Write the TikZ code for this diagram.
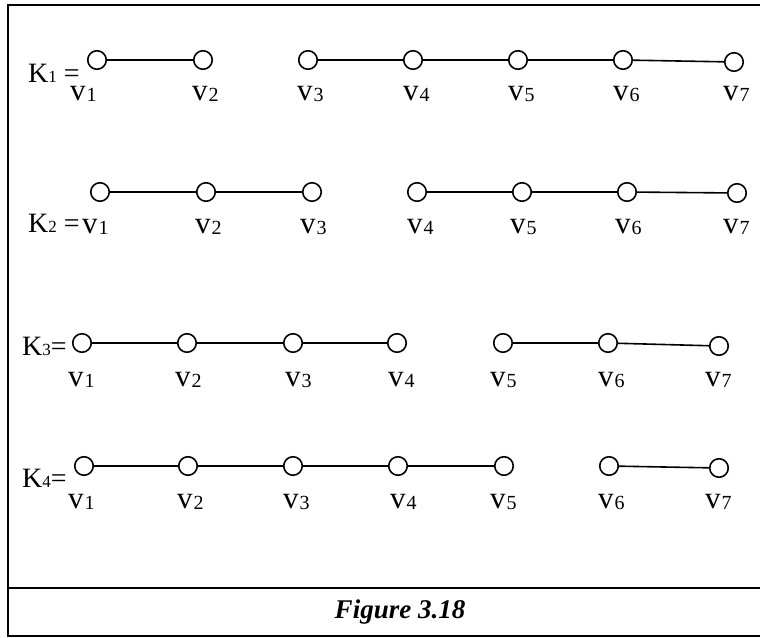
\documentclass[tikz,border=0pt]{standalone}
\usepackage{fontspec}
\setmainfont{Liberation Serif}
\newcommand\vlab[1]{v\kern1pt\raisebox{-1.5pt}{\fontsize{20}{20}\selectfont #1}}
\newcommand\ksub[1]{\raisebox{-0.5pt}{\fontsize{17}{17}\selectfont #1}}
\begin{document}
\begin{tikzpicture}[x=1pt,y=-1pt,
  vx/.style={circle,draw,line width=1.6pt,minimum size=18.5pt,inner sep=0pt,fill=white},
  edge/.style={line width=1.6pt},
  lbl/.style={anchor=base west,inner sep=0pt,font=\fontsize{31}{31}\selectfont},
  klbl/.style={anchor=base west,inner sep=0pt,font=\fontsize{28}{28}\selectfont},
  frame/.style={line width=2pt}]
\useasboundingbox (0,0) rectangle (760,637);
\draw[frame] (8,5) rectangle (762,635.5);
\draw[frame] (8,588) -- (762,588);
% row 1
\foreach \i/\x in {1/97,2/203,3/308,4/413,5/518,6/623} \node[vx] (a\i) at (\x,60) {};
\node[vx] (a7) at (734,62) {};
\draw[edge] (a1)--(a2) (a3)--(a4)--(a5)--(a6)--(a7);
\foreach \i/\x in {1/70,2/192,3/297,4/403,5/508,6/613,7/723} \node[lbl] (la\i) at (\x,100) {\vlab{\i}};
\node[klbl] (k1) at (28,82) {K\ksub{1} =};
% row 2
\foreach \i/\x in {1/100,2/206,3/312,4/417,5/522,6/627} \node[vx] (b\i) at (\x,192) {};
\node[vx] (b7) at (737,193) {};
\draw[edge] (b1)--(b2)--(b3) (b4)--(b5)--(b6)--(b7);
\foreach \i/\x in {1/82,2/195,3/300,4/407,5/510,6/615,7/723} \node[lbl] (lb\i) at (\x,233) {\vlab{\i}};
\node[klbl] (k2) at (28,232) {K\ksub{2} =};
% row 3
\foreach \i/\x in {1/82,2/187,3/293,4/397,5/503,6/608} \node[vx] (c\i) at (\x,343) {};
\node[vx] (c7) at (719,346) {};
\draw[edge] (c1)--(c2)--(c3)--(c4) (c5)--(c6)--(c7);
\foreach \i/\x in {1/68,2/175,3/285,4/388,5/490,6/598,7/705} \node[lbl] (lc\i) at (\x,386) {\vlab{\i}};
\node[klbl] (k3) at (22,355) {K\ksub{3}=};
% row 4
\foreach \i/\x in {1/84,2/188,3/293,4/398,5/504,6/609} \node[vx] (d\i) at (\x,466) {};
\node[vx] (d7) at (719,468) {};
\draw[edge] (d1)--(d2)--(d3)--(d4)--(d5) (d6)--(d7);
\foreach \i/\x in {1/68,2/177,3/283,4/390,5/490,6/598,7/705} \node[lbl] (ld\i) at (\x,508) {\vlab{\i}};
\node[klbl] (k4) at (22,487) {K\ksub{4}=};
% caption
\node[font=\fontsize{27}{27}\selectfont\bfseries\itshape,inner sep=0pt] (cap) at (400,612) {Figure 3.18};
\end{tikzpicture}
\end{document}
